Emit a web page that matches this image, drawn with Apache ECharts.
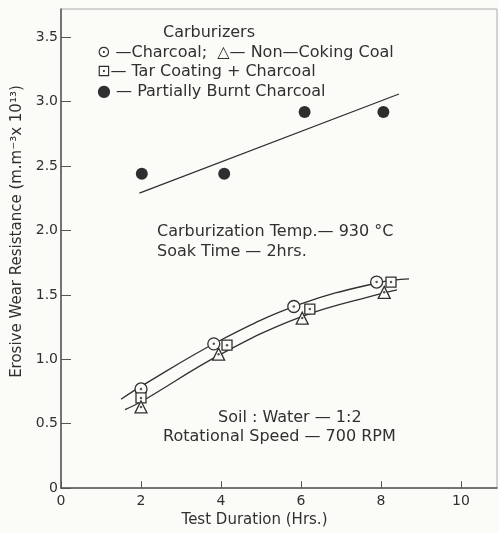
<!DOCTYPE html>
<html>
<head>
<meta charset="utf-8">
<script src="https://cdn.jsdelivr.net/npm/echarts@6/dist/echarts.min.js"></script>
<style>
    html, body { margin: 0; padding: 0; background: #fbfbf8; }
    #main { width: 499px; height: 533px; }
</style>
</head>
<body>
<div id="main"></div>
<script>
// values
var xTicks = [0, 2, 4, 6, 8, 10];
var yTicks = [0, 0.5, 1.0, 1.5, 2.0, 2.5, 3.0, 3.5];

var charcoalX = [2.0, 3.82, 5.82, 7.89];
var charcoalY = [0.77, 1.12, 1.41, 1.60];
var tarX = [2.0, 4.15, 6.22, 8.25];
var tarY = [0.70, 1.11, 1.39, 1.60];
var cokingX = [2.0, 3.94, 6.03, 8.08];
var cokingY = [0.63, 1.04, 1.32, 1.52];
var burntX = [2.02, 4.08, 6.09, 8.06];
var burntY = [2.44, 2.44, 2.92, 2.92];

// hand drawn fit lines
var upperFitX = [1.5, 2.0, 4.0, 6.0, 8.0, 8.7];
var upperFitY = [0.69, 0.79, 1.15, 1.43, 1.60, 1.625];
var lowerFitX = [1.6, 2.0, 4.0, 6.0, 8.0, 8.4];
var lowerFitY = [0.61, 0.67, 1.04, 1.33, 1.51, 1.54];
var burntFitX = [1.96, 8.45];
var burntFitY = [2.29, 3.06];

var ink = '#303030';
var paper = '#fbfbf8';
var font = 'DejaVu Sans';

function pairs(xs, ys) {
    var out = [];
    for (var i = 0; i < xs.length; i++) {
        out.push([xs[i], ys[i]]);
    }
    return out;
}

// open marker with a dot in the middle
function markers(name, xs, ys, symbol, size) {
    return [{
        name: name,
        type: 'scatter',
        data: pairs(xs, ys),
        symbol: symbol,
        symbolSize: size,
        itemStyle: { color: paper, borderColor: ink, borderWidth: 1.3, opacity: 1 },
        z: 3
    }, {
        type: 'scatter',
        data: pairs(xs, ys),
        symbol: 'circle',
        symbolSize: 2.5,
        itemStyle: { color: ink },
        z: 4
    }];
}

function fitLine(xs, ys, smooth) {
    return {
        type: 'line',
        data: pairs(xs, ys),
        showSymbol: false,
        smooth: smooth,
        lineStyle: { color: ink, width: 1.3 },
        z: 2
    };
}

function label(text, x, y) {
    return {
        type: 'text',
        x: x,
        y: y,
        style: {
            text: text,
            font: '16px "' + font + '"',
            fill: ink,
            verticalAlign: 'middle'
        }
    };
}

var myChart = echarts.init(document.getElementById('main'));

var series = [];
series.push(fitLine(upperFitX, upperFitY, 0.4));
series.push(fitLine(lowerFitX, lowerFitY, 0.4));
series.push(fitLine(burntFitX, burntFitY, false));
series = series.concat(markers('Charcoal', charcoalX, charcoalY, 'circle', 12));
series = series.concat(markers('Tar Coating + Charcoal', tarX, tarY, 'rect', 10));
series = series.concat(markers('Non-Coking Coal', cokingX, cokingY, 'triangle', 12));
series.push({
    name: 'Partially Burnt Charcoal',
    type: 'scatter',
    data: pairs(burntX, burntY),
    symbol: 'circle',
    symbolSize: 12,
    itemStyle: { color: '#2e2e2e', opacity: 1 },
    z: 3
});

myChart.setOption({
    backgroundColor: paper,
    animation: false,
    grid: {
        left: 61, right: 2, top: 9, bottom: 39,
        show: true,
        borderColor: '#aaa',
        borderWidth: 1
    },
    xAxis: {
        type: 'value',
        min: 0,
        max: 10.9,
        interval: 2,
        name: 'Test Duration (Hrs.)',
        nameLocation: 'middle',
        nameGap: 23,
        nameTextStyle: { fontFamily: font, fontSize: 15, color: ink, padding: [0, 49, 0, 0] },
        axisLine: { lineStyle: { color: '#555', width: 1.5 } },
        axisTick: { inside: true, length: 7, lineStyle: { color: '#555' } },
        splitLine: { show: false },
        axisLabel: {
            fontFamily: font, fontSize: 14, color: ink, margin: 6,
            showMaxLabel: false,
            formatter: function (v) { return xTicks.indexOf(v) >= 0 ? String(v) : ''; }
        }
    },
    yAxis: {
        type: 'value',
        min: 0,
        max: 3.72,
        interval: 0.5,
        name: 'Erosive Wear Resistance (m.m\u207B\u00B3x 10\u00B9\u00B3)',
        nameLocation: 'middle',
        nameGap: 36,
        nameTextStyle: { fontFamily: font, fontSize: 15, color: ink, padding: [0, 0, 0, 34] },
        axisLine: { lineStyle: { color: '#555', width: 1.5 } },
        axisTick: { inside: true, length: 10, lineStyle: { color: '#555' } },
        splitLine: { show: false },
        axisLabel: {
            fontFamily: font, fontSize: 14, color: ink, margin: 3,
            showMaxLabel: false,
            formatter: function (v) {
                if (yTicks.indexOf(v) < 0) return '';
                return v === 0 ? '0' : v.toFixed(1);
            }
        }
    },
    graphic: [
        label('Carburizers', 163, 33),
        label('\u2299 \u2014Charcoal;  \u25B3\u2014 Non\u2014Coking Coal', 97, 53),
        label('\u22A1\u2014 Tar Coating + Charcoal', 97, 72),
        label('\u25CF \u2014 Partially Burnt Charcoal', 97, 92),
        label('Carburization Temp.\u2014 930 \u00B0C', 157, 232),
        label('Soak Time \u2014 2hrs.', 157, 252),
        label('Soil : Water \u2014 1:2', 218, 418),
        label('Rotational Speed \u2014 700 RPM', 163, 437)
    ],
    series: series
});
</script>
</body>
</html>
